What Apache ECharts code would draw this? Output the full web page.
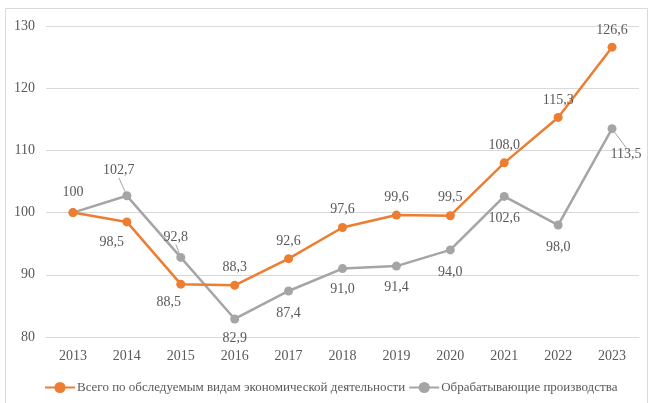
<!DOCTYPE html>
<html>
<head>
<meta charset="utf-8">
<script src="https://cdn.jsdelivr.net/npm/echarts@6/dist/echarts.min.js"></script>
<style>
html,body{margin:0;padding:0;background:#fff;}
#chart{width:649px;height:403px;}
</style>
</head>
<body>
<div id="chart"></div>
<script>
const years = ['2013','2014','2015','2016','2017','2018','2019','2020','2021','2022','2023'];
const totalName = 'Всего по обследуемым видам экономической деятельности';
const totalValues = [100, 98.5, 88.5, 88.3, 92.6, 97.6, 99.6, 99.5, 108.0, 115.3, 126.6];
const totalLabels = ['100','98,5','88,5','88,3','92,6','97,6','99,6','99,5','108,0','115,3','126,6'];
const manufName = 'Обрабатывающие производства';
const manufValues = [100, 102.7, 92.8, 82.9, 87.4, 91.0, 91.4, 94.0, 102.6, 98.0, 113.5];
const manufLabels = ['','102,7','92,8','82,9','87,4','91,0','91,4','94,0','102,6','98,0','113,5'];
const yTicks = [80, 90, 100, 110, 120, 130];

// label displacement (style): [dx, dy] from point centre
const totalOffsets = [[0,-20],[-15,20],[-12,18],[0,-18],[0,-17],[0,-18],[0,-18],[0,-18],[0,-18],[0,-17],[0,-17]];
const manufOffsets = [[0,0],[-8,-25],[-5,-20],[0,19],[0,22],[0,21],[0,21],[0,22],[0,22],[0,22],[14,26]];
const manufLeader = [false,true,true,false,false,false,false,false,false,false,true];

const font = '"Liberation Serif", "Times New Roman", serif';
const txt = '#595959';

function buildData(values, labels, leaders){
  return values.map((v,i)=>({
    value: v,
    label: {show: labels[i] !== '', formatter: labels[i]},
    labelLine: {show: !!(leaders && leaders[i])}
  }));
}

const chart = echarts.init(document.getElementById('chart'));
chart.setOption({
  animation: false,
  graphic: [{
    type: 'rect', silent: true, z: -10,
    shape: {x: 5.5, y: 8.5, width: 642, height: 400},
    style: {fill: 'none', stroke: '#d9d9d9', lineWidth: 1}
  }],
  grid: {left: 46, right: 10, top: 26, bottom: 66},
  legend: {
    top: 376, left: 39, width: 600,
    itemWidth: 30, itemHeight: 14, itemGap: 3,
    textStyle: {fontFamily: font, fontSize: 13, color: txt, padding: [0,0,0,-3]},
    data: [totalName, manufName]
  },
  xAxis: {
    type: 'category', data: years, boundaryGap: true,
    axisLine: {show: true, lineStyle: {color: '#d9d9d9'}},
    axisTick: {show: false},
    axisLabel: {fontFamily: font, fontSize: 14, color: txt, margin: 12}
  },
  yAxis: {
    type: 'value', min: yTicks[0], max: yTicks[yTicks.length-1], interval: 10,
    axisLine: {show: false}, axisTick: {show: false},
    splitLine: {lineStyle: {color: '#d9d9d9'}},
    axisLabel: {fontFamily: font, fontSize: 14, color: txt, margin: 11}
  },
  series: [
    {
      name: totalName, type: 'line', data: buildData(totalValues, totalLabels),
      color: '#ED7D31', symbol: 'circle', symbolSize: 9,
      lineStyle: {width: 2.5, color: '#ED7D31'},
      label: {show: true, position: 'inside', fontFamily: font, fontSize: 14, color: txt},
      labelLine: {show: false},
      labelLayout: p => ({dx: totalOffsets[p.dataIndex][0], dy: totalOffsets[p.dataIndex][1]}),
      z: 3
    },
    {
      name: manufName, type: 'line', data: buildData(manufValues, manufLabels, manufLeader),
      color: '#A5A5A5', symbol: 'circle', symbolSize: 9,
      lineStyle: {width: 2.5, color: '#A5A5A5'},
      label: {show: true, position: 'inside', fontFamily: font, fontSize: 14, color: txt},
      labelLine: {show: false, lineStyle: {color: '#A5A5A5', width: 1}},
      labelLayout: p => ({dx: manufOffsets[p.dataIndex][0], dy: manufOffsets[p.dataIndex][1]}),
      z: 2
    }
  ]
});
</script>
</body>
</html>
